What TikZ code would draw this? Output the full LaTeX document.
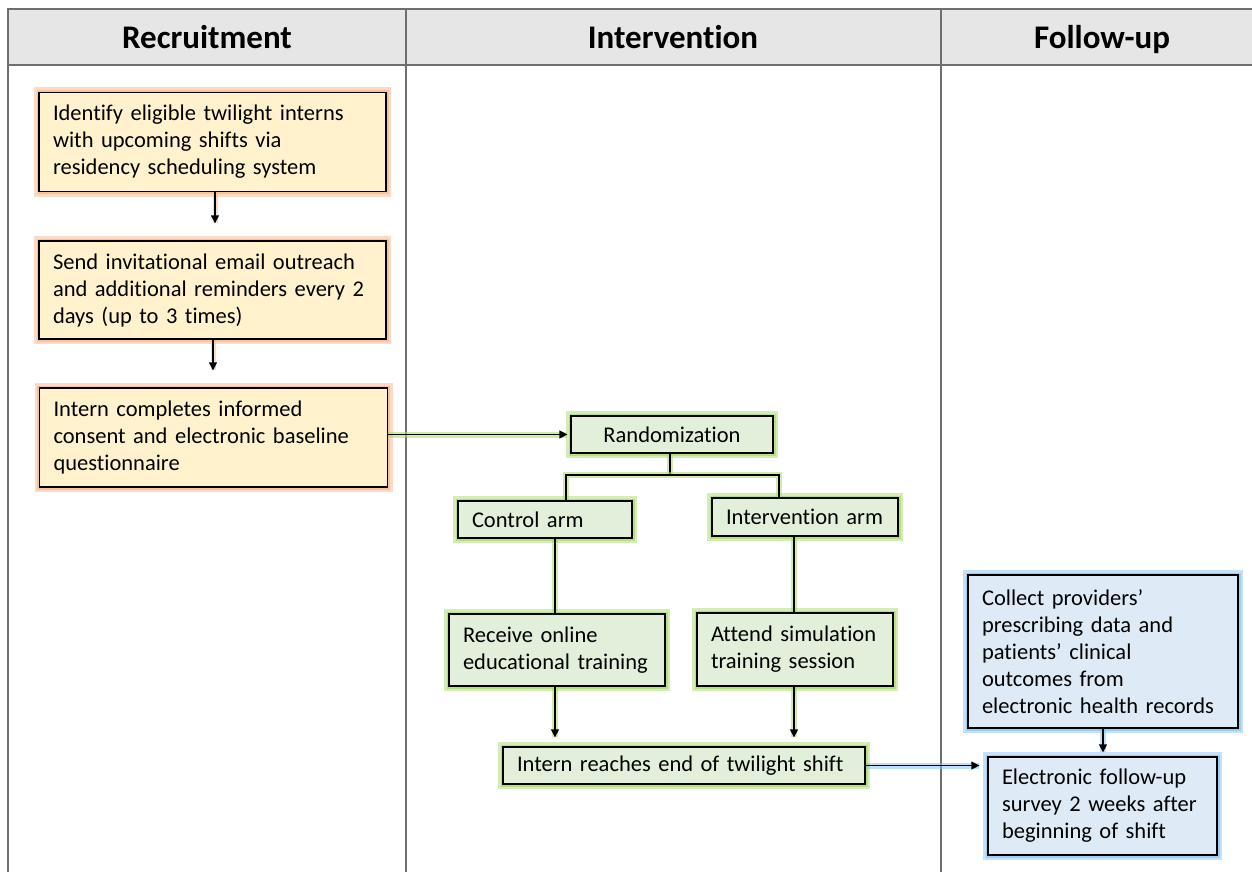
\documentclass[tikz,border=0pt]{standalone}
\usepackage{fontspec}
\setmainfont{Carlito}[Ligatures={NoCommon}]
\usepackage{xcolor}
\usetikzlibrary{arrows.meta}
\definecolor{hdrfill}{HTML}{E6E6E6}
\definecolor{orfill}{HTML}{FFF2CC}
\definecolor{orglow}{HTML}{F8B88B}
\definecolor{grfill}{HTML}{E2EFDA}
\definecolor{grglow}{HTML}{A9D96E}
\definecolor{blfill}{HTML}{DEEBF7}
\definecolor{blglow}{HTML}{8CC4F0}
\definecolor{tabgray}{HTML}{6E6E6E}

\begin{document}
\begin{tikzpicture}[x=1pt,y=-1pt]
\tikzstyle{every node}+=[inner sep=0pt]
\tikzstyle{box}=[draw=black, line width=1.3pt, align=left, inner xsep=14pt, font=\fontsize{22.5}{27}\selectfont]
\tikzstyle{orbox}=[box, fill=orfill, preaction={draw=orglow, line width=10pt, opacity=0.5}, preaction={draw=orglow, line width=5pt, opacity=0.7}]
\tikzstyle{grbox}=[box, fill=grfill, preaction={draw=grglow, line width=10pt, opacity=0.5}, preaction={draw=grglow, line width=5pt, opacity=0.7}]
\tikzstyle{blbox}=[box, fill=blfill, preaction={draw=blglow, line width=10pt, opacity=0.5}, preaction={draw=blglow, line width=5pt, opacity=0.7}]
\tikzstyle{hdr}=[anchor=base, font=\fontsize{33}{40}\selectfont\bfseries]
\tikzstyle{tab}=[draw=tabgray, line width=1.6pt]
\tikzstyle{conn}=[black, line width=1.3pt]
\tikzstyle{arr}=[conn, -{Triangle[length=8pt,width=8pt]}]
\tikzstyle{glowo}=[preaction={draw=orglow, line width=5pt, opacity=0.5, -}]
\tikzstyle{glowg}=[preaction={draw=grglow, line width=6pt, opacity=0.55, -}]
\tikzstyle{glowb}=[preaction={draw=blglow, line width=6pt, opacity=0.55, -}]
\useasboundingbox (0,0) rectangle (1252,872);
\fill [hdrfill] (8,9) rectangle (1270,65);
\draw [tab] (1270,9) -- (8,9) -- (8,880);
\draw [tab] (8,65) -- (1270,65);
\draw [tab] (406,9) -- (406,880);
\draw [tab] (941,9) -- (941,880);
\node [hdr] (hrec) at (207,49) {Recruitment};
\node [hdr] (hint) at (673,49) {Intervention};
\node [hdr] (hfol) at (1102,49) {Follow-up};
\node [orbox, text width=319pt, minimum height=99pt] (rec1) at (212.5,142) {Identify eligible twilight interns\\with upcoming shifts via\\residency scheduling system};
\node [orbox, text width=319pt, minimum height=98pt] (rec2) at (212.5,290) {Send invitational email outreach\\and additional reminders every 2\\days (up to 3 times)};
\node [orbox, text width=320pt, minimum height=99pt] (rec3) at (213.5,437.5) {Intern completes informed\\consent and electronic baseline\\questionnaire};
\node [grbox, text width=174pt, minimum height=37pt, align=center] (rand) at (672,434.5) {Randomization};
\node [grbox, text width=146pt, minimum height=37pt] (ctrl) at (545,519.5) {Control arm};
\node [grbox, text width=158pt, minimum height=38pt] (intv) at (805,517) {Intervention arm};
\node [grbox, text width=188pt, minimum height=72pt] (recv) at (557,650) {Receive online\\educational training};
\node [grbox, text width=168pt, minimum height=73pt] (attd) at (795,649.5) {Attend simulation\\training session};
\node [grbox, text width=334pt, minimum height=37pt] (reach) at (684,765.5) {Intern reaches end of twilight shift};
\node [blbox, text width=242pt, minimum height=153pt] (coll) at (1103,651.5) {Collect providers’\\prescribing data and\\patients’ clinical\\outcomes from\\electronic health records};
\node [blbox, text width=201pt, minimum height=98pt] (fup) at (1102.5,806) {Electronic follow-up\\survey 2 weeks after\\beginning of shift};
\coordinate (split) at (670,475);
\coordinate (lx) at (566,0);
\coordinate (rx) at (779,0);
\coordinate (cx) at (555,0);
\coordinate (ix) at (794,0);
\draw [arr, glowo, shorten >=17pt] (rec1.south -| 215,0) -- (rec2.north -| 215,0);
\draw [arr, glowo, shorten >=17pt] (rec2.south -| 213,0) -- (rec3.north -| 213,0);
\draw [arr, glowg, shorten >=3pt] (rec3.east |- rand.west) -- (rand.west);
\draw [conn, glowg] (rand.south -| split) -- (split);
\draw [conn, glowg] (ctrl.north -| lx) |- (split) -| (intv.north -| rx);
\draw [conn, glowg] (ctrl.south -| cx) -- (recv.north -| cx);
\draw [conn, glowg] (intv.south -| ix) -- (attd.north -| ix);
\draw [arr, glowg, shorten >=9pt] (recv.south -| cx) -- (reach.north -| cx);
\draw [arr, glowg, shorten >=9pt] (attd.south -| ix) -- (reach.north -| ix);
\draw [arr, glowb, shorten >=8pt] (reach.east) -- (reach.east -| fup.west);
\draw [arr, glowb, shorten >=4pt] (coll.south) -- (fup.north -| coll.south);
\end{tikzpicture}
\end{document}
